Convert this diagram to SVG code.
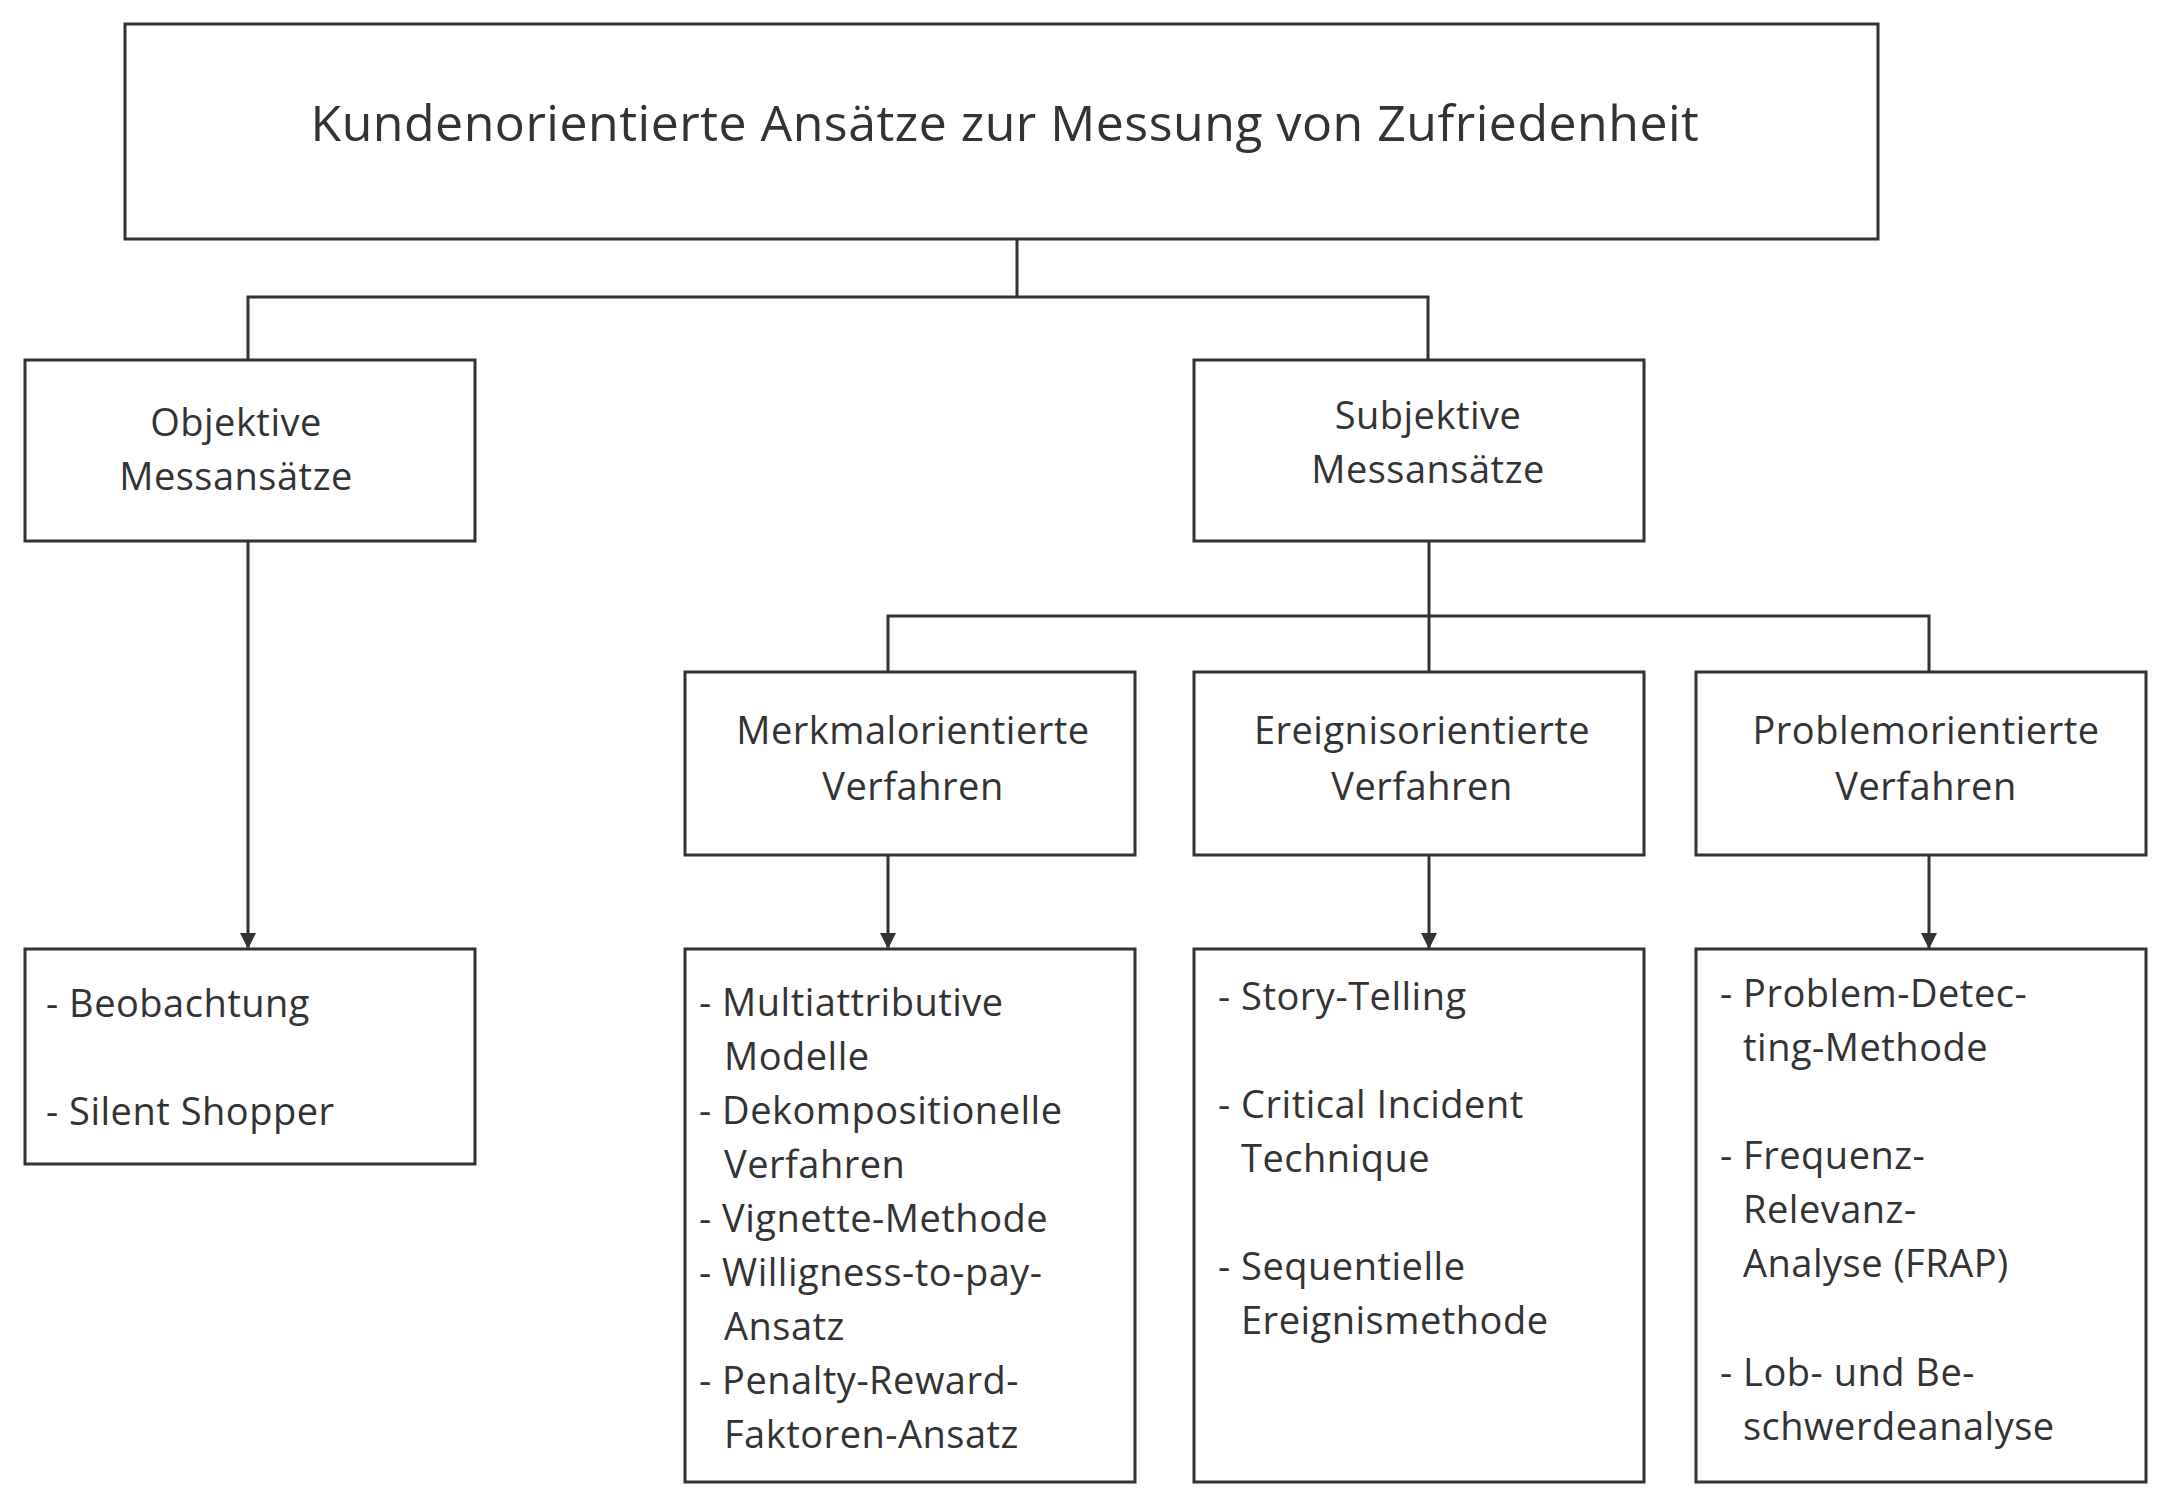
<svg xmlns="http://www.w3.org/2000/svg" width="2164" height="1505" viewBox="0 0 2164 1505">
<style>
rect{fill:#fff;stroke:#333;stroke-width:3}
text{font-family:"Open Sans","DejaVu Sans",sans-serif;font-size:38px;fill:#333;letter-spacing:0.5px}
.c{text-anchor:middle}
.l{fill:none;stroke:#333;stroke-width:3}
</style>
<defs><marker id="a" markerWidth="10" markerHeight="10" refX="9" refY="5" orient="auto" markerUnits="userSpaceOnUse"><path d="M0,0L10,5L0,10z" fill="#333" transform="scale(1.6) translate(-3.4,-1.9)"/></marker>
<marker id="b" viewBox="0 0 10 10" markerWidth="16" markerHeight="18" refX="10" refY="5" orient="auto" markerUnits="userSpaceOnUse"><path d="M0,0L10,5L0,10z" fill="#333"/></marker></defs>
<g id="connectors">
<path class="l" d="M1017,239V297M248,360V297H1428V360"/>
<path class="l" d="M248,541V949" marker-end="url(#b)"/>
<path class="l" d="M1429,541V672M888,672V616H1929V672"/>
<path class="l" d="M888,855V949" marker-end="url(#b)"/>
<path class="l" d="M1429,855V949" marker-end="url(#b)"/>
<path class="l" d="M1929,855V949" marker-end="url(#b)"/>
</g>
<g id="title"><rect x="125" y="24" width="1753" height="215"/><text class="c" x="1005" y="141" style="font-size:50px">Kundenorientierte Ansätze zur Messung von Zufriedenheit</text></g>
<g id="objektiv"><rect x="25" y="360" width="450" height="181"/><text class="c" x="236" y="436">Objektive</text><text class="c" x="236" y="490">Messansätze</text></g>
<g id="subjektiv"><rect x="1194" y="360" width="450" height="181"/><text class="c" x="1428" y="429">Subjektive</text><text class="c" x="1428" y="483">Messansätze</text></g>
<g id="merkmal"><rect x="685" y="672" width="450" height="183"/><text class="c" x="913" y="744">Merkmalorientierte</text><text class="c" x="913" y="800">Verfahren</text></g>
<g id="ereignis"><rect x="1194" y="672" width="450" height="183"/><text class="c" x="1422" y="744">Ereignisorientierte</text><text class="c" x="1422" y="800">Verfahren</text></g>
<g id="problem"><rect x="1696" y="672" width="450" height="183"/><text class="c" x="1926" y="744">Problemorientierte</text><text class="c" x="1926" y="800">Verfahren</text></g>
<g id="objektiv-list"><rect x="25" y="949" width="450" height="215"/>
<text x="46" y="1017">- Beobachtung</text><text x="46" y="1125">- Silent Shopper</text></g>
<g id="merkmal-list"><rect x="685" y="949" width="450" height="533"/>
<text x="699" y="1016">- Multiattributive</text><text x="724" y="1070">Modelle</text>
<text x="699" y="1124">- Dekompositionelle</text><text x="724" y="1178">Verfahren</text>
<text x="699" y="1232">- Vignette-Methode</text>
<text x="699" y="1286">- Willigness-to-pay-</text><text x="724" y="1340">Ansatz</text>
<text x="699" y="1394">- Penalty-Reward-</text><text x="724" y="1448">Faktoren-Ansatz</text></g>
<g id="ereignis-list"><rect x="1194" y="949" width="450" height="533"/>
<text x="1218" y="1010">- Story-Telling</text>
<text x="1218" y="1118">- Critical Incident</text><text x="1241" y="1172">Technique</text>
<text x="1218" y="1280">- Sequentielle</text><text x="1241" y="1334">Ereignismethode</text></g>
<g id="problem-list"><rect x="1696" y="949" width="450" height="533"/>
<text x="1720" y="1007">- Problem-Detec-</text><text x="1743" y="1061">ting-Methode</text>
<text x="1720" y="1169">- Frequenz-</text><text x="1743" y="1223">Relevanz-</text><text x="1743" y="1277">Analyse (FRAP)</text>
<text x="1720" y="1386">- Lob- und Be-</text><text x="1743" y="1440">schwerdeanalyse</text></g>
</svg>
